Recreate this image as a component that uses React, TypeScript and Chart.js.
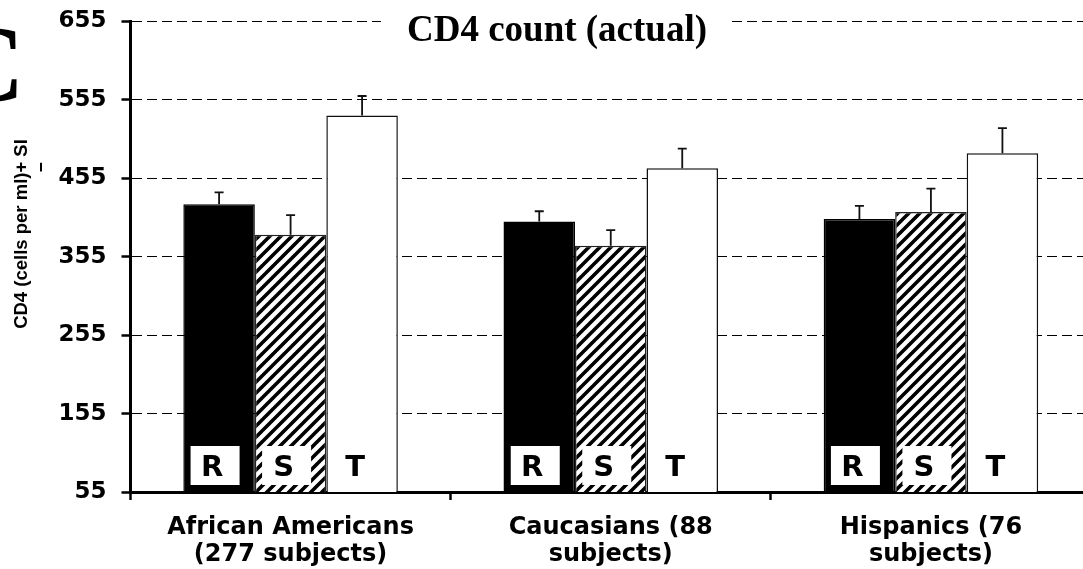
import React, { useEffect, useRef } from "react";
import { Chart, registerables } from "chart.js";

Chart.register(...registerables);

// ---- data ----
const categories = [
  ["African Americans", "(277 subjects)"],
  ["Caucasians (88", "subjects)"],
  ["Hispanics (76", "subjects)"],
];
const seriesNames = ["R", "S", "T"];
const rValues = [422, 400, 403];
const sValues = [383, 369, 412];
const tValues = [535, 468, 487];
const rErrors = [15, 13, 17];
const sErrors = [25, 20, 30];
const tErrors = [25, 25, 32];
const yTicks = [55, 155, 255, 355, 455, 555, 655];
const chartTitle = "CD4 count (actual)";
const yTitleParts = ["CD4 (cells per ml)", "+", " SI"];
const panelLetter = "C";

function makeHatch(): CanvasPattern | string {
  const size = 11;
  const c = document.createElement("canvas");
  c.width = size;
  c.height = size;
  const g = c.getContext("2d");
  if (!g) return "#888";
  g.fillStyle = "#fff";
  g.fillRect(0, 0, size, size);
  g.strokeStyle = "#000";
  g.lineWidth = 3.6;
  g.beginPath();
  for (let k = -1; k <= 1; k++) {
    g.moveTo(k * size - 1, size + 1);
    g.lineTo(k * size + size + 1, -1);
  }
  g.stroke();
  return g.createPattern(c, "repeat") || "#888";
}

const overlayPlugin = {
  id: "overlay",
  afterDatasetsDraw(chart: any) {
    const ctx: CanvasRenderingContext2D = chart.ctx;
    const y = chart.scales.y;
    const area = chart.chartArea;
    chart.data.datasets.forEach((ds: any, di: number) => {
      const meta = chart.getDatasetMeta(di);
      meta.data.forEach((bar: any, i: number) => {
        const v = ds.data[i];
        const e = ds.errors[i];
        const top = y.getPixelForValue(v);
        const cap = y.getPixelForValue(v + e);
        ctx.save();
        ctx.strokeStyle = "#111";
        ctx.lineWidth = 1.8;
        ctx.beginPath();
        ctx.moveTo(bar.x, top);
        ctx.lineTo(bar.x, cap);
        ctx.moveTo(bar.x - 4.5, cap);
        ctx.lineTo(bar.x + 4.5, cap);
        ctx.stroke();
        // series label inside the bar bottom
        const cx = bar.x - 4;
        const boxW = 49;
        const boxH = 39;
        const boxBottom = area.bottom - 7;
        if (ds.labelBox) {
          ctx.fillStyle = "#fff";
          ctx.fillRect(cx - boxW / 2, boxBottom - boxH, boxW, boxH);
        }
        ctx.fillStyle = "#000";
        ctx.font = "bold 29px 'DejaVu Sans'";
        ctx.textAlign = "center";
        ctx.textBaseline = "middle";
        ctx.fillText(ds.label, cx - 3, boxBottom - boxH / 2 + 3);
        ctx.restore();
      });
    });

    // title with white background
    ctx.save();
    ctx.fillStyle = "#fff";
    ctx.fillRect(381, 8, 349, 44);
    ctx.fillStyle = "#000";
    ctx.font = "bold 37px 'Liberation Serif'";
    ctx.textAlign = "center";
    ctx.textBaseline = "alphabetic";
    ctx.fillText(chartTitle, 557, 41);
    ctx.restore();

    // y axis title (rotated) with underlined plus
    ctx.save();
    ctx.font = "bold 18.5px 'Liberation Sans'";
    const full = yTitleParts.join("");
    const totalW = ctx.measureText(full).width;
    const w0 = ctx.measureText(yTitleParts[0]).width;
    const w1 = ctx.measureText(yTitleParts[1]).width;
    ctx.translate(22, 234);
    ctx.rotate(-Math.PI / 2);
    ctx.fillStyle = "#000";
    ctx.textAlign = "left";
    ctx.textBaseline = "middle";
    const sx = -totalW / 2;
    ctx.fillText(full, sx, 0);
    ctx.strokeStyle = "#000";
    ctx.lineWidth = 2;
    ctx.beginPath();
    ctx.moveTo(sx + w0 + 1, 19);
    ctx.lineTo(sx + w0 + w1 - 1, 19);
    ctx.stroke();
    ctx.restore();

    // partially visible panel letter
    ctx.save();
    ctx.fillStyle = "#000";
    ctx.font = "bold 110px 'Liberation Serif'";
    ctx.textAlign = "right";
    ctx.textBaseline = "alphabetic";
    ctx.fillText(panelLetter, 25, 101);
    ctx.restore();
  },
};

export default function App() {
  const ref = useRef<HTMLCanvasElement | null>(null);
  useEffect(() => {
    const canvas = ref.current;
    if (!canvas) return;
    const hatch = makeHatch();
    const chart = new Chart(canvas, {
      type: "bar",
      data: {
        labels: categories,
        datasets: [
          {
            label: seriesNames[0],
            data: rValues,
            errors: rErrors,
            labelBox: true,
            backgroundColor: "#000",
            borderColor: "#000",
            borderWidth: 1.5,
          } as any,
          {
            label: seriesNames[1],
            data: sValues,
            errors: sErrors,
            labelBox: true,
            backgroundColor: hatch,
            borderColor: "#222",
            borderWidth: 1.5,
          } as any,
          {
            label: seriesNames[2],
            data: tValues,
            errors: tErrors,
            labelBox: false,
            backgroundColor: "#fff",
            borderColor: "#111",
            borderWidth: 1.5,
          } as any,
        ],
      },
      options: {
        responsive: false,
        animation: false,
        devicePixelRatio: 1,
        events: [],
        layout: { padding: { top: 21.5, right: 9, left: 0, bottom: 0 } },
        datasets: {
          bar: { categoryPercentage: 0.67, barPercentage: 1.0 },
        },
        plugins: {
          legend: { display: false },
          tooltip: { enabled: false },
          title: { display: false },
        },
        scales: {
          x: {
            offset: true,
            grid: {
              display: true,
              offset: true,
              drawOnChartArea: false,
              drawTicks: true,
              tickLength: 8,
              tickWidth: 2.5,
              tickColor: "#000",
              color: "#000",
            },
            border: { display: true, color: "#000", width: 3 },
            ticks: {
              color: "#000",
              padding: 15,
              maxRotation: 0,
              autoSkip: false,
              font: { family: "'DejaVu Sans'", weight: "bold", size: 24, lineHeight: 1.1 },
            },
            afterFit: (s: any) => {
              s.height = 77;
              s.paddingLeft = 0;
              s.paddingRight = 0;
            },
          },
          y: {
            min: 55,
            max: 655,
            afterBuildTicks: (s: any) => {
              s.ticks = yTicks.map((v) => ({ value: v }));
            },
            grid: {
              display: true,
              color: "#000",
              lineWidth: 1,
              drawTicks: true,
              tickLength: 9,
              tickWidth: 2.5,
              tickColor: "#000",
              tickBorderDash: [],
            },
            border: { display: true, color: "#000", width: 3, dash: [10, 5] },
            ticks: {
              color: "#000",
              padding: 15,
              font: { family: "'DejaVu Sans'", weight: "bold", size: 23 },
            },
            afterFit: (s: any) => {
              s.width = 130.5;
              s.paddingTop = 0;
              s.paddingBottom = 0;
            },
          },
        },
      } as any,
      plugins: [overlayPlugin],
    });
    return () => chart.destroy();
  }, []);

  return (
    <div
      style={{
        position: "fixed",
        left: 0,
        top: 0,
        width: 1083,
        height: 569,
        overflow: "hidden",
        background: "#fff",
      }}
    >
      <canvas ref={ref} width={1100} height={569} style={{ width: 1100, height: 569, display: "block" }} />
    </div>
  );
}
